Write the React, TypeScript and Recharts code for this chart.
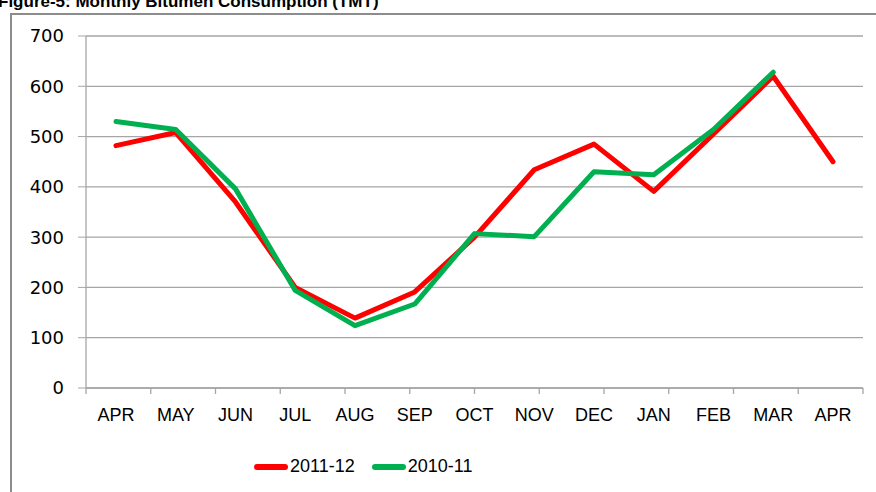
import { CartesianGrid, Legend, Line, LineChart, XAxis, YAxis } from "recharts";

const months = ["APR", "MAY", "JUN", "JUL", "AUG", "SEP", "OCT", "NOV", "DEC", "JAN", "FEB", "MAR", "APR"];
const fy2011_12 = [482, 508, 370, 200, 139, 191, 300, 434, 485, 391, 505, 620, 450];
const fy2010_11 = [530, 514, 396, 194, 124, 167, 307, 301, 430, 424, 514, 628, null];
const yTicks = [0, 100, 200, 300, 400, 500, 600, 700];
const boundaryTicks = [0, 1, 2, 3, 4, 5, 6, 7, 8, 9, 10, 11, 12, 13];

const rows = months.map((m, i) => ({ month: m, a: fy2011_12[i], b: fy2010_11[i] }));

const font = "'Liberation Sans', Arial, sans-serif";
const narrow = "'Liberation Sans Narrow', 'Liberation Sans', sans-serif";

function LegendBox() {
  const item = (color: string, label: string) => (
    <div style={{ display: "flex", alignItems: "center", marginRight: 17 }}>
      <div style={{ width: 34, height: 6, borderRadius: 3, background: color, marginRight: 2 }} />
      <span style={{ fontSize: 18, color: "#000", fontFamily: narrow }}>{label}</span>
    </div>
  );
  return (
    <div style={{ display: "flex", justifyContent: "flex-start", paddingLeft: 228, paddingTop: 20 }}>
      {item("#ff0000", "2011-12")}
      {item("#00b050", "2010-11")}
    </div>
  );
}

export default function App() {
  return (
    <div style={{ position: "absolute", left: 0, top: 0, width: 876, height: 492, overflow: "hidden", background: "#fff" }}>
      <div
        style={{
          position: "absolute",
          left: -2,
          top: -8,
          fontFamily: font,
          fontWeight: "bold",
          fontSize: 17,
          color: "#000",
          whiteSpace: "nowrap",
        }}
      >
        Figure-5: Monthly Bitumen Consumption (TMT)
      </div>
      <div
        style={{
          position: "absolute",
          left: 10,
          top: 13,
          width: 900,
          height: 500,
          borderLeft: "2px solid #8c8c8c",
          borderTop: "2px solid #8c8c8c",
        }}
      />
      <div style={{ position: "absolute", left: 0, top: 0 }}>
        <LineChart width={876} height={492} data={rows} margin={{ top: 36, right: 13, left: 26, bottom: 6 }}>
          <CartesianGrid horizontal vertical={false} stroke="#a6a6a6" strokeWidth={1.3} />
          <YAxis
            domain={[0, 700]}
            ticks={yTicks}
            width={60}
            axisLine={{ stroke: "#a6a6a6", strokeWidth: 1.3 }}
            tickLine={{ stroke: "#a6a6a6" }}
            tickSize={8}
            tickMargin={14}
            tick={{ fill: "#000", fontSize: 18, fontFamily: "'DejaVu Sans', sans-serif" }}
          />
          <XAxis
            dataKey="month"
            xAxisId="cat"
            height={40}
            padding={{ left: 30, right: 30 }}
            axisLine={false}
            tickLine={false}
            tickMargin={6}
            interval={0}
            tick={{ fill: "#000", fontSize: 18, fontFamily: narrow }}
          />
          <XAxis
            xAxisId="bounds"
            type="number"
            domain={[0, 13]}
            ticks={boundaryTicks}
            allowDataOverflow
            height={8}
            tick={{ fontSize: 1, fill: "transparent" }}
            tickFormatter={() => ""}
            tickSize={6}
            axisLine={{ stroke: "#a6a6a6", strokeWidth: 1.3 }}
            tickLine={{ stroke: "#a6a6a6", strokeWidth: 1.3 }}
          />
          <Legend verticalAlign="bottom" height={50} content={() => <LegendBox />} />
          <Line
            xAxisId="cat"
            dataKey="a"
            name="2011-12"
            stroke="#ff0000"
            strokeWidth={5}
            dot={false}
            isAnimationActive={false}
            strokeLinecap="round"
            strokeLinejoin="round"
          />
          <Line
            xAxisId="cat"
            dataKey="b"
            name="2010-11"
            stroke="#00b050"
            strokeWidth={5}
            dot={false}
            isAnimationActive={false}
            strokeLinecap="round"
            strokeLinejoin="round"
          />
        </LineChart>
      </div>
    </div>
  );
}
